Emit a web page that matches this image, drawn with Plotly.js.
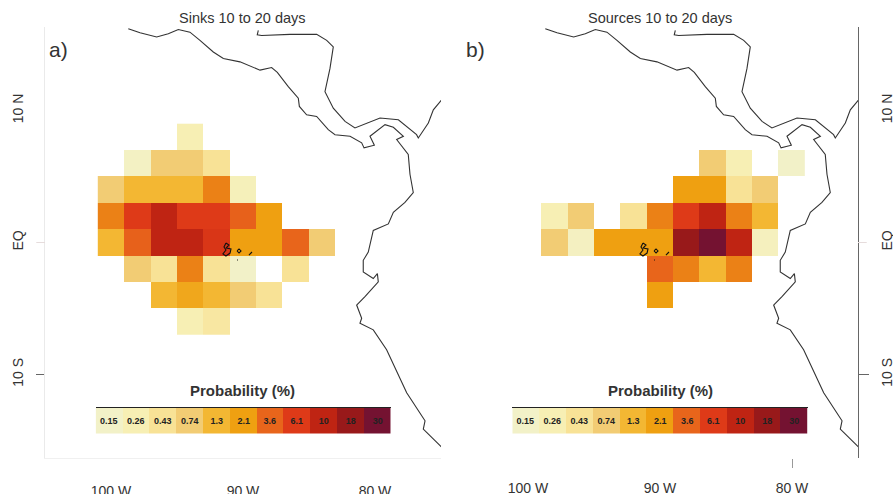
<!DOCTYPE html>
<html>
<head>
<meta charset="utf-8">
<script src="https://cdn.plot.ly/plotly-3.0.1.min.js"></script>
<style>html,body{margin:0;padding:0;background:#fff}</style>
</head>
<body>
<div id="chart" style="width:893px;height:494px"></div>
<script>
// Grid of the maps
const lons = [-100,-98,-96,-94,-92,-90,-88,-86,-84,-82,-80];
const lats = [8,6,4,2,0,-2,-4,-6];

// Probability (%) per grid cell, rows follow lats, columns follow lons
const sinks = [
 [null,null,null,0.26,null,null,null,null,null,null,null],
 [null,0.17,0.74,0.74,0.43,null,null,null,null,null,null],
 [0.74,1.3,1.3,1.3,2.8,0.22,null,null,null,null,null],
 [2.8,6.1,10,6.1,6.1,3.8,2.1,null,null,null,null],
 [1.3,3.8,10,10,6.6,2.1,2.1,3.6,0.74,null,null],
 [null,0.74,0.43,2.8,0.43,0.15,null,0.43,null,null,null],
 [null,null,1.3,1.8,1.3,0.74,0.43,null,null,null,null],
 [null,null,null,0.26,0.35,null,null,null,null,null,null]
];
const sources = [
 [null,null,null,null,null,null,null,null,null,null,null],
 [null,null,null,null,null,null,null,0.74,0.26,null,0.15],
 [null,null,null,null,null,null,2.1,2.1,0.43,0.74,null],
 [null,0.26,0.74,null,0.43,2.8,6.1,10,2.8,1.3,null],
 [null,0.74,0.18,2.1,2.1,2.1,18,30,10,0.2,null],
 [null,null,null,null,null,3.6,2.8,1.3,2.8,null,null],
 [null,null,null,null,null,2.1,null,null,null,null,null],
 [null,null,null,null,null,null,null,null,null,null,null]
];

// Colour key
const keyLabels = ['0.15','0.26','0.43','0.74','1.3','2.1','3.6','6.1','10','18','30'];
const keyColors = ['#f2f1c8','#f7efb4','#f8e296','#f2cc74','#f3b733','#efa011','#e8651b','#de3a18','#bf2413','#98191a','#741231'];

// Coastlines (degrees)
const pacificLon = [-98.69,-97.80,-96.54,-95.66,-94.90,-94.02,-93.26,-92.25,-91.49,-90.23,-88.71,-87.83,-87.40,-86.57,-85.81,-85.73,-85.18,-84.42,-83.54,-83.03,-81.89,-81.01,-80.83,-80.05,-80.38,-79.24,-78.61,-77.85,-78.36,-77.48,-77.35,-77.10,-77.73,-78.61,-78.99,-80.13,-80.51,-80.89,-80.89,-80.13,-79.82,-79.75,-80.76,-81.39,-81.01,-81.14,-80.13,-79.12,-77.60,-76.21,-76.34,-74.95];
const pacificLat = [16.20,15.89,15.57,15.82,16.14,15.94,15.32,14.44,13.94,13.69,13.06,13.26,12.89,11.81,10.93,10.31,9.68,9.55,8.55,8.17,8.05,7.55,7.17,7.37,8.05,8.93,8.73,8.05,7.80,6.67,5.17,3.79,3.04,2.29,1.41,0.91,-0.73,-1.35,-2.23,-2.73,-2.36,-2.98,-4.11,-4.74,-5.74,-6.12,-6.62,-8.12,-11.38,-13.51,-14.14,-15.51];
const caribbeanLon = [-88.84,-88.92,-88.59,-86.44,-84.42,-83.66,-83.16,-83.41,-83.79,-83.16,-82.27,-81.52,-79.62,-78.23,-76.85,-76.72,-75.96,-75.58,-74.95];
const caribbeanLat = [16.07,15.74,15.69,15.77,15.77,15.32,14.82,13.19,11.43,10.18,9.18,8.68,9.43,9.30,8.17,7.92,9.05,10.05,10.81];
const islandLon = [-91.29,-91.06,-91.29,-90.91,-90.98,-91.29,-91.52,-91.29,-91.44,-91.29,null,-90.45,-90.30,-90.15,-90.30,-90.45,null,-89.55,-89.32,null,-90.45,-90.38];
const islandLat = [-0.04,-0.19,-0.42,-0.49,-0.80,-1.02,-0.87,-0.57,-0.34,-0.04,null,-0.64,-0.49,-0.64,-0.80,-0.64,null,-0.95,-0.72,null,-1.33,-1.33];

// Axis ticks
const lonTicks = [-100,-90,-80];
const lonLabels = ['100 W','90 W','80 W'];
const latTicks = [10,0,-10];
const latLabels = ['10 N','EQ','10 S'];

// Panel labels
const panelTitles = ['Sinks 10 to 20 days','Sources 10 to 20 days'];
const panelTags = ['a)','b)'];
const keyTitle = 'Probability (%)';

const W = 893, H = 494;
const px = v => v / W, py = v => 1 - v / H;
const fontFam = '"Liberation Sans", Arial, sans-serif';
const zmin = Math.log10(0.15), zmax = Math.log10(30);
const scale = keyLabels.map((l, i) => [(Math.log10(+l) - zmin) / (zmax - zmin), keyColors[i]]);
const logZ = t => t.map(r => r.map(v => v === null ? null : Math.log10(v)));

const frames = [{l:45, r:441, key:[95.7,390.7], s:'', k:'3'}, {l:462, r:858, key:[512.3,807.7], s:'2', k:'4'}];
const plotTop = 27, plotBottom = 458;

const traces = [];
const layout = {
  width:W, height:H, margin:{l:0,r:0,t:0,b:0}, paper_bgcolor:'#fff', plot_bgcolor:'#fff',
  showlegend:false, font:{family:fontFam, color:'#333', size:14},
  annotations:[], shapes:[]
};

[sinks, sources].forEach((grid, i) => {
  const f = frames[i];
  const xa = 'x' + f.s, ya = 'y' + f.s;
  traces.push({type:'heatmap', x:lons, y:lats, z:logZ(grid), xaxis:xa, yaxis:ya,
    zmin, zmax, colorscale:scale, showscale:false, hoverongaps:false});
  [[pacificLon,pacificLat],[caribbeanLon,caribbeanLat]].forEach(c => traces.push({
    type:'scatter', mode:'lines', x:c[0], y:c[1], xaxis:xa, yaxis:ya,
    line:{color:'#333', width:1.1}}));
  traces.push({type:'scatter', mode:'lines', x:islandLon, y:islandLat, xaxis:xa, yaxis:ya,
    connectgaps:false, line:{color:'#111', width:1.1}});

  const right = i === 1;
  const edge = right ? '#666' : '#eaeaea';
  layout['xaxis' + f.s] = {
    domain:[px(f.l), px(f.r)], range:[-105,-75], anchor:ya, zeroline:false, showgrid:false,
    showline:!right, linecolor:'#f0f0f0', tickmode:'array', tickvals:lonTicks, ticktext:lonLabels,
    ticks:'', ticklabelstandoff:20, tickfont:{size:14, color:'#333'},
    minor: right ? {tickmode:'array', tickvals:[-80], ticks:'outside', ticklen:9, tickcolor:'#999', tickwidth:1, showgrid:false} : undefined
  };
  layout['yaxis' + f.s] = {
    domain:[py(plotBottom), py(plotTop)], range:[-16.33,16.33], anchor:xa, side:right?'right':'left',
    zeroline:false, showgrid:false, showline:true, linecolor:edge, linewidth:right?1.3:1,
    tickmode:'array', tickvals:latTicks, ticktext:latLabels, tickangle:-90,
    ticks:'', ticklabelstandoff:right?16:15, tickfont:{size:14, color:'#333'},
    minor:{tickmode:'array', tickvals:[-10], ticks:'outside', ticklen:right?10:8, tickcolor:'#666', tickwidth:1, showgrid:false}
  };
  // faint equator tick
  layout.shapes.push({type:'line', xref:xa+' domain', yref:ya+' domain',
    x0:right?1:-0.022, x1:right?1.022:0, y0:0.5, y1:0.5, line:{color:'#e6dcdc', width:1}});

  // colour key
  const kx = 'x' + f.k, ky = 'y' + f.k;
  traces.push({type:'heatmap', x:keyLabels, y:[0], z:[keyLabels.map(l => Math.log10(+l))], text:[keyLabels],
    texttemplate:'<b>%{text}</b>', textfont:{size:9, color:'#222', family:fontFam},
    xaxis:kx, yaxis:ky, zmin, zmax, colorscale:scale, showscale:false});
  layout['xaxis' + f.k] = {domain:[px(f.key[0]), px(f.key[1])], anchor:ky, type:'category', side:'top',
    showticklabels:false, ticks:'', showgrid:false, zeroline:false, showline:true, linecolor:'#222', linewidth:1};
  layout['yaxis' + f.k] = {domain:[py(433.5), py(408)], anchor:kx, showticklabels:false, ticks:'',
    showgrid:false, zeroline:false, showline:false};

  layout.annotations.push(
    {text:panelTitles[i], xref:'paper', yref:'paper', x:px(f.l+198), y:py(18), showarrow:false,
     xanchor:'center', yanchor:'middle', font:{size:14.5, color:'#333'}},
    {text:panelTags[i], xref:'paper', yref:'paper', x:px(f.l+2), y:py(50), showarrow:false,
     xanchor:'left', yanchor:'middle', font:{size:21, color:'#333'}},
    {text:'<b>'+keyTitle+'</b>', xref:'paper', yref:'paper', x:px(f.l+198), y:py(390), showarrow:false,
     xanchor:'center', yanchor:'middle', font:{size:15, color:'#333'}}
  );
});

Plotly.newPlot('chart', traces, layout, {displayModeBar:false, staticPlot:true});
</script>
</body>
</html>
